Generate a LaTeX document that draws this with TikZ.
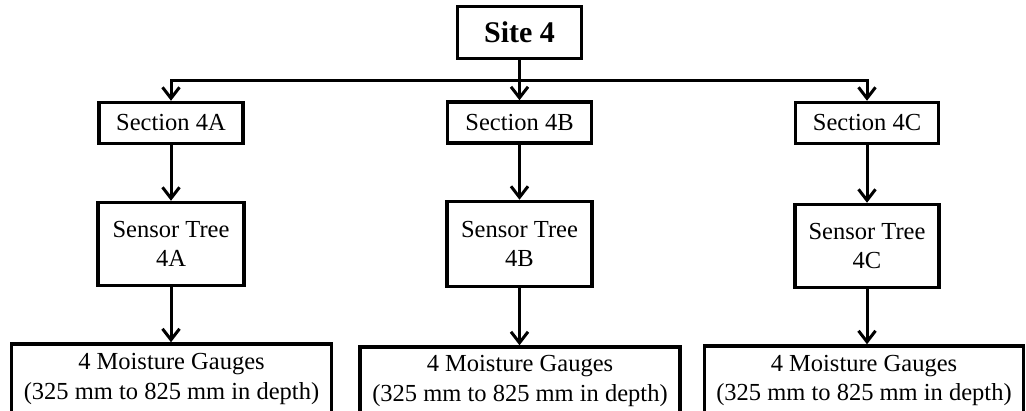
\documentclass[tikz,border=0pt]{standalone}
\usepackage{fontspec}
\setmainfont{Liberation Serif}
\usetikzlibrary{arrows.meta}
\begin{document}
\begin{tikzpicture}[x=1pt,y=-1pt,
  box/.style={draw=black, line width=3.5pt, fill=white, inner sep=0pt, align=center,
    font=\fontsize{24.5}{29.5}\selectfont},
  sitebox/.style={box, font=\fontsize{30}{36}\selectfont\bfseries},
  conn/.style={line width=3pt, draw=black},
  arr/.style={conn, -{Straight Barb[length=11pt,width=17pt]}},
  darr/.style={conn, {Straight Barb[length=11pt,width=17pt]}-{Straight Barb[length=11pt,width=17pt]}}
]
\useasboundingbox[fill=white] (0,0) rectangle (1026,410);
\begin{scope}
\clip (0,0) rectangle (1026,410);
\node[sitebox, minimum width=124pt, minimum height=52pt] (site) at (519.5,32.5) {Site 4};
\node[box, minimum width=144pt, minimum height=41pt] (sA) at (171,123) {Section 4A};
\node[box, minimum width=144pt, minimum height=41pt] (sB) at (519.5,122.5) {Section 4B};
\node[box, minimum width=143pt, minimum height=41pt] (sC) at (867,123) {Section 4C};
\node[box, minimum width=146pt, minimum height=83pt] (tA) at (171,244) {Sensor Tree\\4A};
\node[box, minimum width=145pt, minimum height=85pt] (tB) at (519.5,244) {Sensor Tree\\4B};
\node[box, minimum width=144pt, minimum height=83pt] (tC) at (867,246) {Sensor Tree\\4C};
\node[box, minimum width=320pt, minimum height=70pt] (mA) at (171.5,379) {4 Moisture Gauges\\(325 mm to 825 mm in depth)};
\node[box, minimum width=320pt, minimum height=68pt] (mB) at (520,381) {4 Moisture Gauges\\(325 mm to 825 mm in depth)};
\node[box, minimum width=319pt, minimum height=69pt] (mC) at (864,380.5) {4 Moisture Gauges\\(325 mm to 825 mm in depth)};
\end{scope}
\coordinate (jA) at (sA.north |- 0,80);
\coordinate (jC) at (sC.north |- 0,80);
\draw[darr] (sA.north) -- (jA) -- (jC) -- (sC.north);
\draw[arr] (site.south) -- (sB.north);
\draw[arr] (sA.south) -- (tA.north);
\draw[arr] (sB.south) -- (tB.north);
\draw[arr] (sC.south) -- (tC.north);
\draw[arr] (tA.south) -- (mA.north -| tA.south);
\draw[arr] (tB.south) -- (mB.north -| tB.south);
\draw[arr] (tC.south) -- (mC.north -| tC.south);
\end{tikzpicture}
\end{document}
